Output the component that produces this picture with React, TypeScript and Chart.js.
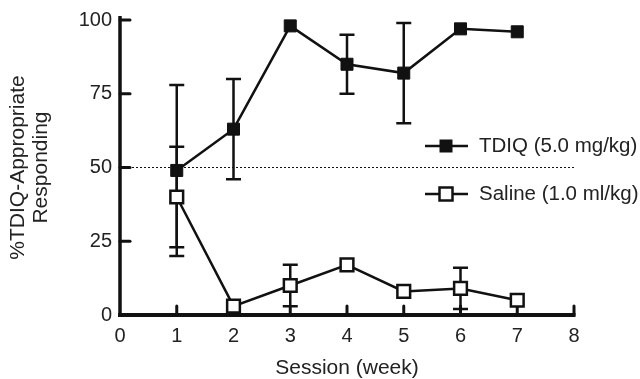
import React, { useEffect, useRef } from "react";
import { Chart, registerables } from "chart.js";

Chart.register(...registerables);

const sessions = [1, 2, 3, 4, 5, 6, 7];
const tdiqValues = [49, 63, 98, 85, 82, 97, 96];
const tdiqErrors = [29, 17, 0, 10, 17, 0, 0];
const salineValues = [40, 3, 10, 17, 8, 9, 5];
const salineErrors = [17, 0, 7, 0, 0, 7, 0];
const referenceLevel = 50;
const xTicksRange = [0, 8];
const yTicksRange = [0, 100];
const seriesLabels = ["TDIQ (5.0 mg/kg)", "Saline (1.0 ml/kg)"];
const xTitle = "Session (week)";
const yTitle = ["%TDIQ-Appropriate", "Responding"];

const FONT = "'Liberation Sans', Arial, Helvetica, sans-serif";
const INK = "#111111";
const TEXT = "#222222";

const errorBars = [tdiqErrors, salineErrors];

const decorPlugin = {
  id: "decor",
  beforeDatasetsDraw(chart: any) {
    const ctx = chart.ctx;
    const xs = chart.scales.x;
    const ys = chart.scales.y;
    const { left, bottom } = chart.chartArea;
    ctx.save();
    ctx.strokeStyle = INK;
    ctx.lineCap = "butt";
    // axes
    ctx.lineWidth = 3.5;
    ctx.beginPath();
    ctx.moveTo(left, bottom + 2);
    ctx.lineTo(left, ys.getPixelForValue(yTicksRange[1]) - 4);
    ctx.stroke();
    ctx.lineWidth = 4;
    ctx.beginPath();
    ctx.moveTo(left - 2, bottom);
    ctx.lineTo(xs.getPixelForValue(xTicksRange[1]) + 1.5, bottom);
    ctx.stroke();
    // inward ticks
    ctx.lineWidth = 3;
    ctx.lineCap = "round";
    for (let v = yTicksRange[0] + 25; v <= yTicksRange[1]; v += 25) {
      const y = ys.getPixelForValue(v);
      ctx.beginPath();
      ctx.moveTo(left, y);
      ctx.lineTo(left + 10, y);
      ctx.stroke();
    }
    for (let v = xTicksRange[0] + 1; v <= xTicksRange[1]; v++) {
      const x = xs.getPixelForValue(v);
      ctx.beginPath();
      ctx.moveTo(x, bottom);
      ctx.lineTo(x, bottom - 9);
      ctx.stroke();
    }
    // error bars
    ctx.lineCap = "butt";
    ctx.lineWidth = 2.5;
    const series = [tdiqValues, salineValues];
    series.forEach((vals, si) => {
      const errs = errorBars[si];
      vals.forEach((v, i) => {
        const e = errs[i];
        if (!e) return;
        const x = xs.getPixelForValue(sessions[i]);
        const yHi = ys.getPixelForValue(v + e);
        const yLo = ys.getPixelForValue(v - e);
        ctx.beginPath();
        ctx.moveTo(x, yHi);
        ctx.lineTo(x, yLo);
        ctx.moveTo(x - 7.5, yHi);
        ctx.lineTo(x + 7.5, yHi);
        ctx.moveTo(x - 7.5, yLo);
        ctx.lineTo(x + 7.5, yLo);
        ctx.stroke();
      });
    });
    ctx.restore();
  },
  afterDraw(chart: any) {
    const ctx = chart.ctx;
    const { left, right, top, bottom } = chart.chartArea;
    ctx.save();
    ctx.fillStyle = TEXT;
    ctx.font = `21px ${FONT}`;
    // x title
    ctx.textAlign = "center";
    ctx.textBaseline = "middle";
    ctx.fillText(xTitle, (left + right) / 2, 368);
    // y title
    ctx.save();
    ctx.translate(0, (top + bottom) / 2);
    ctx.rotate(-Math.PI / 2);
    ctx.fillText(yTitle[0], 0, 18);
    ctx.fillText(yTitle[1], 0, 41);
    ctx.restore();
    // legend
    ctx.font = `20.5px ${FONT}`;
    const rows = [
      { y: 146, fill: INK, label: seriesLabels[0], r: 6 },
      { y: 194, fill: "#ffffff", label: seriesLabels[1], r: 6.5 },
    ];
    rows.forEach((row) => {
      ctx.strokeStyle = INK;
      ctx.lineWidth = 2.5;
      ctx.beginPath();
      ctx.moveTo(425, row.y);
      ctx.lineTo(468, row.y);
      ctx.stroke();
      ctx.fillStyle = row.fill;
      ctx.fillRect(446 - row.r, row.y - row.r, row.r * 2, row.r * 2);
      ctx.lineWidth = row.fill === INK ? 1 : 2.5;
      ctx.strokeRect(446 - row.r, row.y - row.r, row.r * 2, row.r * 2);
      ctx.fillStyle = TEXT;
      ctx.textAlign = "left";
      ctx.textBaseline = "middle";
      ctx.fillText(row.label, 479, row.y);
    });
    ctx.restore();
  },
};

export default function App() {
  const canvasRef = useRef<HTMLCanvasElement | null>(null);

  useEffect(() => {
    if (!canvasRef.current) return;
    const chart = new Chart(canvasRef.current, {
      type: "line",
      data: {
        datasets: [
          {
            label: seriesLabels[0],
            data: sessions.map((s, i) => ({ x: s, y: tdiqValues[i] })),
            borderColor: INK,
            borderWidth: 2.5,
            pointStyle: "rect",
            pointRadius: 8.5,
            pointBackgroundColor: INK,
            pointBorderColor: INK,
            pointBorderWidth: 1,
            clip: false,
          },
          {
            label: seriesLabels[1],
            data: sessions.map((s, i) => ({ x: s, y: salineValues[i] })),
            borderColor: INK,
            borderWidth: 2.5,
            pointStyle: "rect",
            pointRadius: 9,
            pointBackgroundColor: "#ffffff",
            pointBorderColor: INK,
            pointBorderWidth: 2.5,
            clip: false,
          },
          {
            label: "ref",
            data: [
              { x: xTicksRange[0], y: referenceLevel },
              { x: xTicksRange[1], y: referenceLevel },
            ],
            borderColor: INK,
            borderWidth: 1,
            borderDash: [2, 2],
            pointRadius: 0,
          },
        ],
      } as any,
      options: {
        responsive: false,
        animation: false,
        events: [],
        layout: { padding: { top: 20, right: 66, left: 0, bottom: 0 } },
        scales: {
          x: {
            type: "linear",
            min: xTicksRange[0],
            max: xTicksRange[1],
            ticks: { stepSize: 1, color: TEXT, font: { family: FONT, size: 20 }, padding: 9 },
            grid: { display: false, drawTicks: false },
            border: { display: false },
            afterFit: (s: any) => {
              s.height = 64;
            },
          },
          y: {
            type: "linear",
            min: yTicksRange[0],
            max: yTicksRange[1],
            ticks: { stepSize: 25, color: TEXT, font: { family: FONT, size: 20 }, padding: 8 },
            grid: { display: false, drawTicks: false },
            border: { display: false },
            afterFit: (s: any) => {
              s.width = 120;
            },
          },
        },
        plugins: { legend: { display: false }, tooltip: { enabled: false } },
      } as any,
      plugins: [decorPlugin],
    });
    return () => chart.destroy();
  }, []);

  return (
    <div style={{ position: "fixed", left: 0, top: 0, width: 640, height: 379, background: "#fff" }}>
      <canvas ref={canvasRef} width={640} height={379} />
    </div>
  );
}
